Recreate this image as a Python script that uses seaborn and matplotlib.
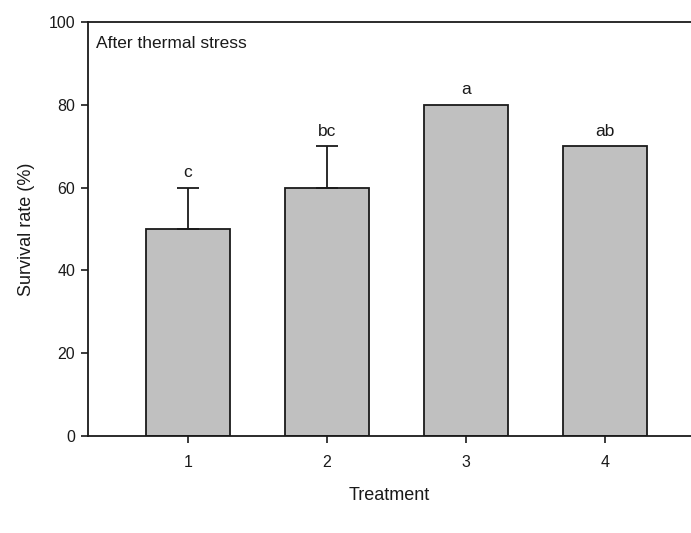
import matplotlib
matplotlib.use("Agg")
import matplotlib.pyplot as plt
import seaborn as sns
import pandas as pd

treatments = ["1", "2", "3", "4"]
survival = [50, 60, 80, 70]
errors = [10, 10, 0, 0]
letters = ["c", "bc", "a", "ab"]
y_ticks = [0, 20, 40, 60, 80, 100]

df = pd.DataFrame({"Treatment": treatments, "Survival": survival})

sns.set_style("white")
plt.rcParams["font.family"] = ["Liberation Sans", "DejaVu Sans"]

fig = plt.figure(figsize=(6.91, 5.33), dpi=100)
ax = fig.add_axes([0.127, 0.182, 0.873, 0.777])

sns.barplot(data=df, x="Treatment", y="Survival", color="#c0c0c0",
            edgecolor="#1a1a1a", linewidth=1.3, width=0.6, saturation=1,
            errorbar=None, ax=ax)

# upper error bars only, where there is an error
for i, (v, e) in enumerate(zip(survival, errors)):
    if e > 0:
        ax.errorbar(i, v, yerr=[[0], [e]], fmt="none", ecolor="#1a1a1a",
                    elinewidth=1.3, capsize=8, capthick=1.3, zorder=3)
    ax.text(i, v + e + 1.8, letters[i], ha="center", va="bottom",
            fontsize=12.5, color="#1a1a1a")

ax.text(0.013, 0.965, "After thermal stress", transform=ax.transAxes,
        ha="left", va="top", fontsize=12.5, color="#1a1a1a")

ax.set_ylim(0, 100)
ax.set_xlim(-0.72, 3.62)
ax.set_yticks(y_ticks)
ax.set_xlabel("Treatment", fontsize=13, labelpad=12, color="#1a1a1a")
ax.set_ylabel("Survival rate (%)", fontsize=13, labelpad=10, color="#1a1a1a")

ax.tick_params(axis="both", direction="out", length=5, width=1.2,
               labelsize=11.5, colors="#1a1a1a", left=True, bottom=True)
ax.tick_params(axis="x", pad=9)
ax.tick_params(axis="y", pad=4)

for side in ["top", "left", "bottom"]:
    ax.spines[side].set_visible(True)
    ax.spines[side].set_linewidth(1.3)
    ax.spines[side].set_color("#1a1a1a")
ax.spines["right"].set_visible(False)

fig.savefig("out.png", dpi=100)
